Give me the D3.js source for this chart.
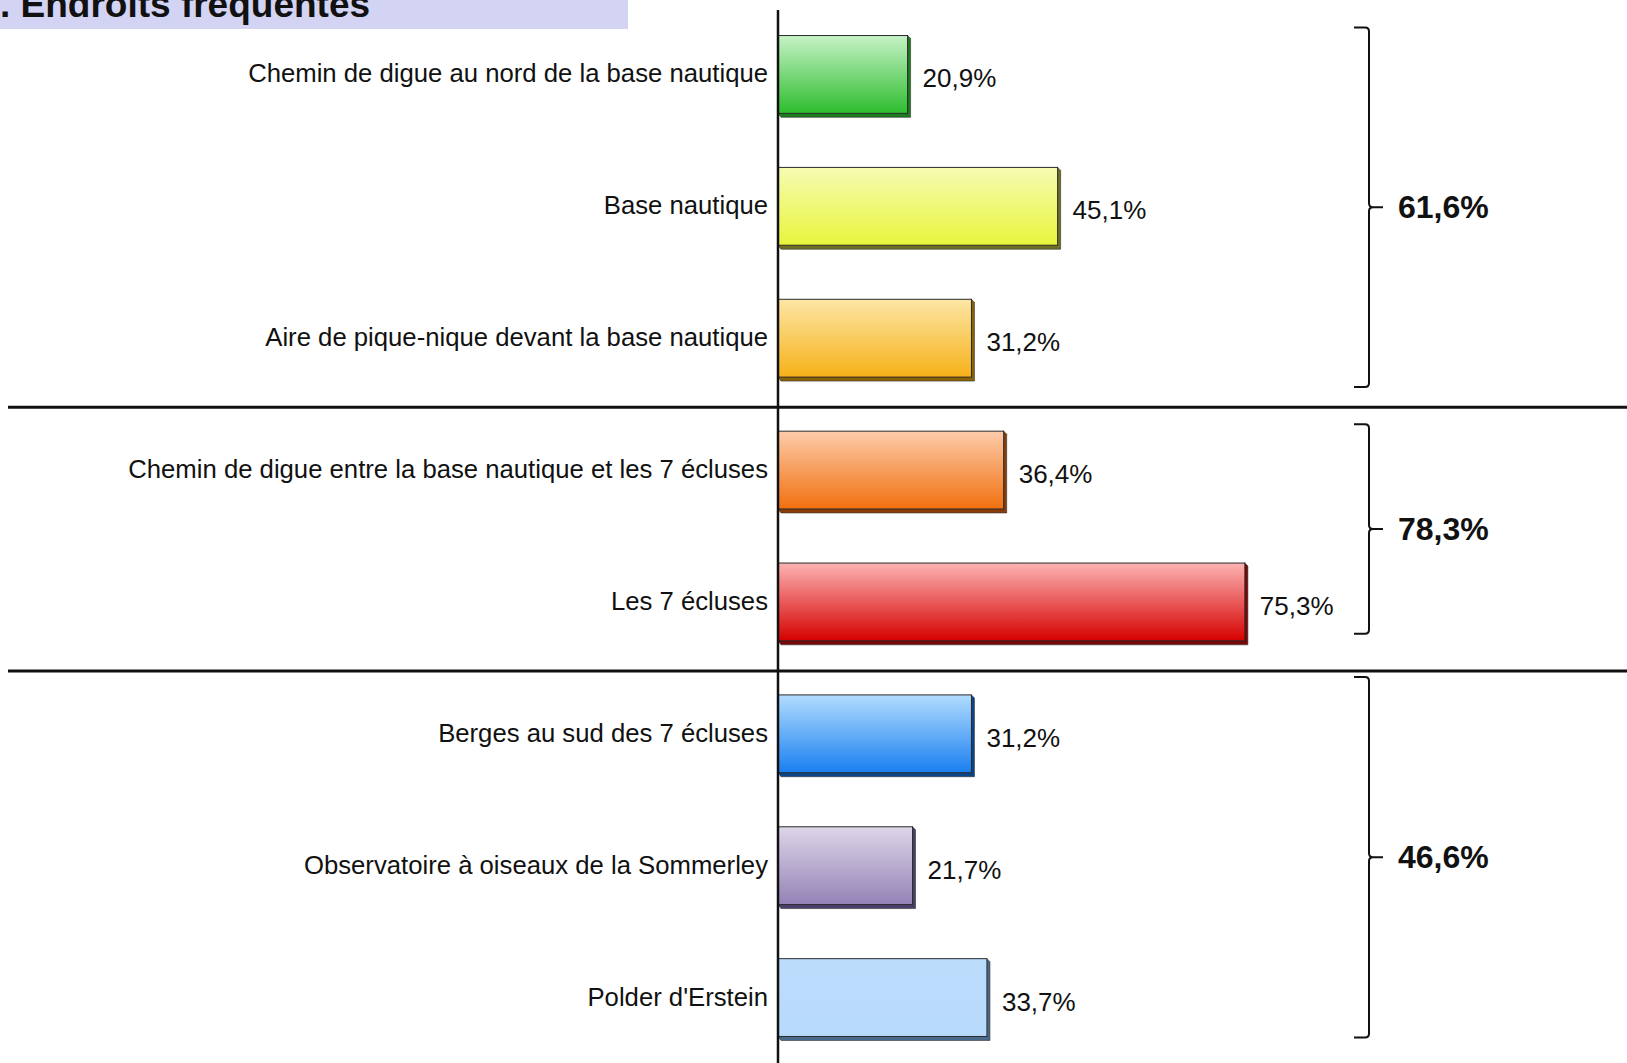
<!DOCTYPE html>
<html>
<head>
<meta charset="utf-8">
<script src="https://cdn.jsdelivr.net/npm/d3@7"></script>
<style>
  body { margin: 0; background: #fff; }
  svg { display: block; font-family: "Liberation Sans", Arial, sans-serif; }
</style>
</head>
<body>
<div id="chart"></div>
<script>
var width = 1627, height = 1063;

// data
var categories = [
  "Chemin de digue au nord de la base nautique",
  "Base nautique",
  "Aire de pique-nique devant la base nautique",
  "Chemin de digue entre la base nautique et les 7 écluses",
  "Les 7 écluses",
  "Berges au sud des 7 écluses",
  "Observatoire à oiseaux de la Sommerley",
  "Polder d'Erstein"
];
var values = [20.9, 45.1, 31.2, 36.4, 75.3, 31.2, 21.7, 33.7];
var groupFirst = [0, 3, 5];
var groupLast = [2, 4, 7];
var groupTotals = [61.6, 78.3, 46.6];
var title = ". Endroits fréquentés";

// colours (top of gradient, bottom of gradient, extrusion)
var topColors = ["#c6f2c6", "#f6fbb2", "#fde6a6", "#fdcbaa", "#fcb3b3", "#b2dcff", "#ddd6e8", "#bcdcfc"];
var bottomColors = ["#2ebd2e", "#e8f53c", "#f6b118", "#f1700f", "#d60000", "#1a7ff0", "#9482b6", "#b8dafc"];
var shadowColors = ["#1d7a1d", "#6e7020", "#8a6206", "#8a3d06", "#7a0606", "#0c4488", "#4c3e6c", "#4a6a8c"];

// brace overhang beyond the bars of each group (layout tweak)
var braceTopPad = [8, 7, 18];
var braceBotPad = [10, -7, 1];

var fr = d3.formatLocale({decimal: ",", thousands: " ", grouping: [3], currency: ["", " €"]});
var fmt = fr.format(".1f");

var x = d3.scaleLinear().domain([0, 100]).range([778, 1398]);
var y = d3.scaleBand().domain(categories).range([8.5, 1063.5]).paddingInner(0.41).paddingOuter(0.205);

var svg = d3.select("#chart").append("svg")
    .attr("width", width)
    .attr("height", height);

var defs = svg.append("defs");
categories.forEach(function(c, i) {
  var g = defs.append("linearGradient")
      .attr("id", "grad" + i)
      .attr("x1", 0).attr("y1", 0).attr("x2", 0).attr("y2", 1);
  g.append("stop").attr("offset", "0%").attr("stop-color", topColors[i]);
  g.append("stop").attr("offset", "100%").attr("stop-color", bottomColors[i]);
});

// title band
svg.append("rect")
    .attr("x", 0).attr("y", 0)
    .attr("width", 628).attr("height", 29)
    .style("fill", "#d3d3f3");
svg.append("text")
    .attr("x", 0).attr("y", 16.5)
    .style("font-size", "37px")
    .style("font-weight", "bold")
    .style("fill", "#111")
    .text(title);

// separators between groups
var step = y.step(), bw = y.bandwidth();
groupFirst.slice(1).forEach(function(fi) {
  var yy = y(categories[fi]) - (step - bw) / 2 + 3;
  svg.append("line")
      .attr("x1", 8).attr("x2", width)
      .attr("y1", yy).attr("y2", yy)
      .style("stroke", "#111")
      .style("stroke-width", 3);
});

// bars
var bars = svg.selectAll(".bar")
    .data(values)
  .enter().append("g")
    .attr("class", "bar");

bars.append("path")
    .attr("d", function(d, i) {
      var x0 = x(0), x1 = x(d), y0 = y(categories[i]), y1 = y0 + bw;
      return "M" + x1 + "," + y0 + "L" + (x1 + 3) + "," + (y0 + 3) +
             "L" + (x1 + 3) + "," + (y1 + 4) + "L" + (x0 + 3) + "," + (y1 + 4) +
             "L" + x0 + "," + y1 + "Z";
    })
    .style("fill", function(d, i) { return shadowColors[i]; })
    .style("stroke", "#333")
    .style("stroke-width", 0.6);

bars.append("rect")
    .attr("x", x(0))
    .attr("y", function(d, i) { return y(categories[i]); })
    .attr("width", function(d) { return x(d) - x(0); })
    .attr("height", bw)
    .style("fill", function(d, i) { return "url(#grad" + i + ")"; })
    .style("stroke", "#2a2a2a")
    .style("stroke-width", 1);

// category labels
svg.selectAll(".cat")
    .data(categories)
  .enter().append("text")
    .attr("class", "cat")
    .attr("x", 768)
    .attr("y", function(d) { return y(d) + bw / 2 + 8; })
    .style("text-anchor", "end")
    .style("font-size", "25.7px")
    .style("fill", "#111")
    .text(function(d) { return d; });

// value labels
svg.selectAll(".val")
    .data(values)
  .enter().append("text")
    .attr("class", "val")
    .attr("x", function(d) { return x(d) + 15; })
    .attr("y", function(d, i) { return y(categories[i]) + bw / 2 + 13; })
    .style("font-size", "26px")
    .style("fill", "#111")
    .text(function(d) { return fmt(d) + "%"; });

// vertical axis line
svg.append("line")
    .attr("x1", x(0)).attr("x2", x(0))
    .attr("y1", 10).attr("y2", height)
    .style("stroke", "#111")
    .style("stroke-width", 2.5);

// group braces and totals
var bx = 1369;
groupTotals.forEach(function(t, k) {
  var top = y(categories[groupFirst[k]]) - braceTopPad[k];
  var bot = y(categories[groupLast[k]]) + bw + braceBotPad[k];
  var mid = (top + bot) / 2;
  var r = 4;
  var p = "M" + (bx - 15) + "," + top + "H" + (bx - r) +
          "Q" + bx + "," + top + " " + bx + "," + (top + r) +
          "V" + (mid - r) + "Q" + bx + "," + mid + " " + (bx + r) + "," + mid +
          "H" + (bx + 14) +
          "M" + (bx + r) + "," + mid + "Q" + bx + "," + mid + " " + bx + "," + (mid + r) +
          "V" + (bot - r) + "Q" + bx + "," + bot + " " + (bx - r) + "," + bot +
          "H" + (bx - 15);
  svg.append("path")
      .attr("d", p)
      .style("fill", "none")
      .style("stroke", "#111")
      .style("stroke-width", 2);
  svg.append("text")
      .attr("x", 1398)
      .attr("y", mid + 11)
      .style("font-size", "32px")
      .style("font-weight", "bold")
      .style("fill", "#111")
      .text(fmt(t) + "%");
});
</script>
</body>
</html>
